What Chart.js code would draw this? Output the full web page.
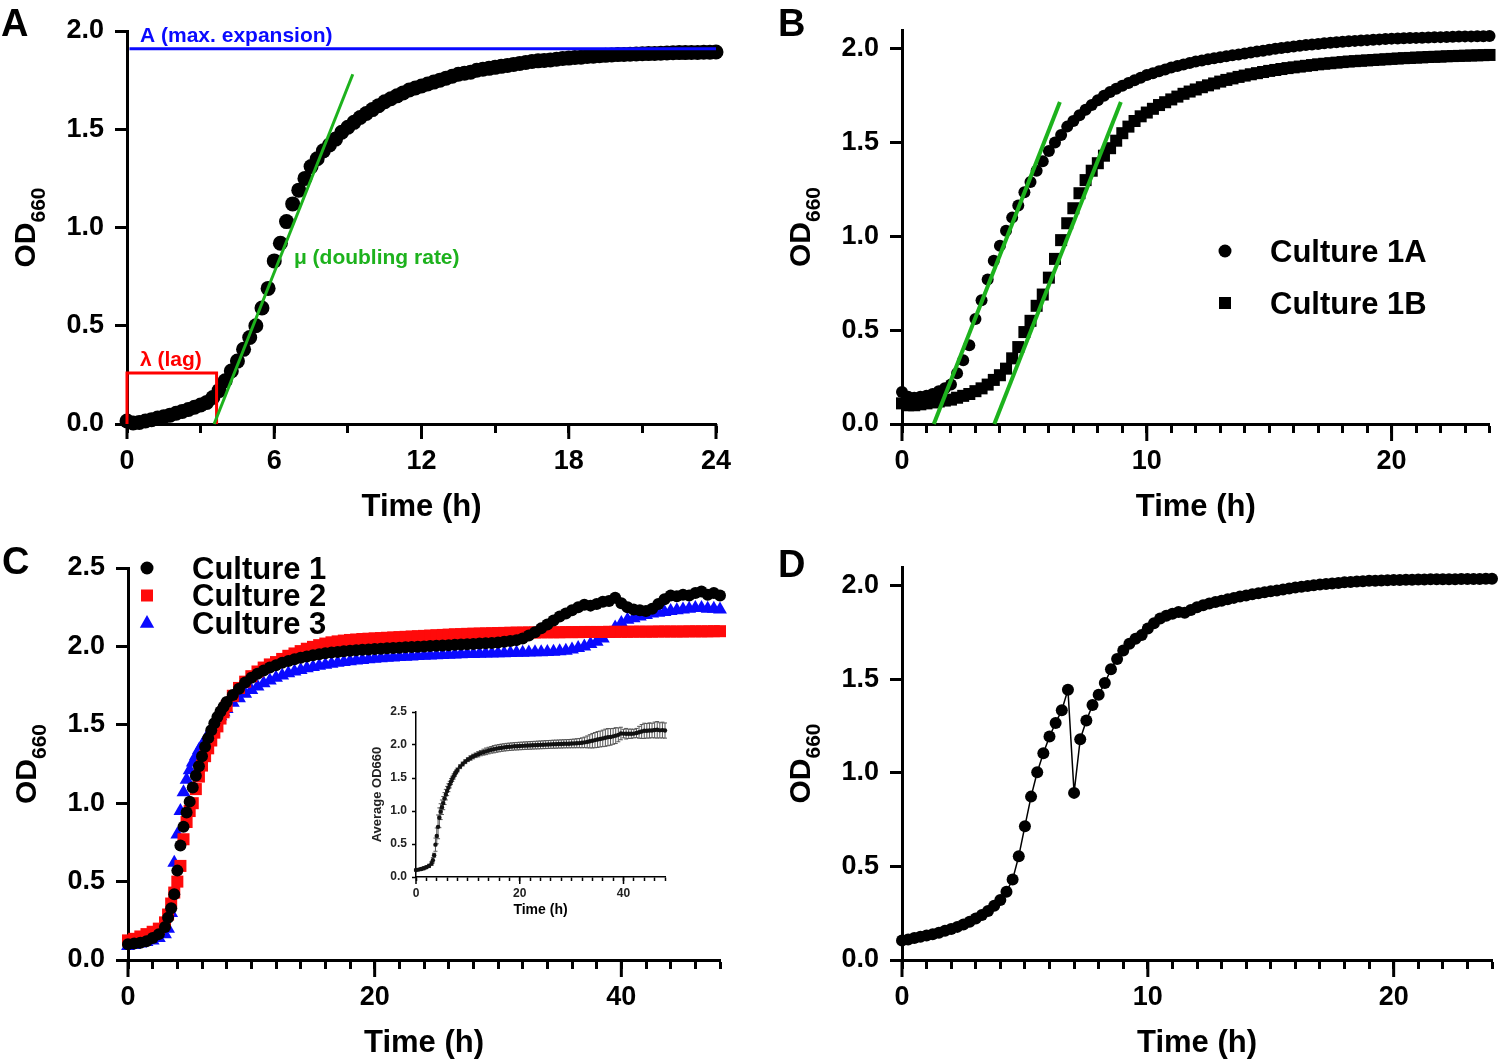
<!DOCTYPE html>
<html>
<head>
<meta charset="utf-8">
<script src="https://cdn.jsdelivr.net/npm/chart.js@4.4.1/dist/chart.umd.min.js"></script>
<style>
  body { margin: 0; background: #fff; width: 1498px; height: 1064px; position: relative; overflow: hidden; }
  canvas { position: absolute; }
  .tag { position: absolute; z-index: 5; font: bold 38px/38px 'Liberation Sans', Arial, sans-serif; color: #000; }
</style>
</head>
<body>
<div class="tag" style="left:1px;top:4px">A</div>
<div class="tag" style="left:778px;top:4px">B</div>
<div class="tag" style="left:2px;top:542px">C</div>
<div class="tag" style="left:778px;top:545px">D</div>
<canvas id="chartA" style="left:0;top:0" width="750" height="530"></canvas>
<canvas id="chartB" style="left:750px;top:0" width="748" height="530"></canvas>
<canvas id="chartC" style="left:0;top:530px" width="750" height="534"></canvas>
<canvas id="chartD" style="left:750px;top:530px" width="748" height="534"></canvas>
<canvas id="chartInset" style="left:350px;top:690px" width="330" height="240"></canvas>
<script>
const FONT_STACK = "'Liberation Sans', Arial, Helvetica, sans-serif";
Chart.defaults.font.family = FONT_STACK;
Chart.defaults.color = '#000';

// sampling times (h)
const TIME_24 = [
  0, 0.25, 0.5, 0.75, 1, 1.25, 1.5, 1.75, 2, 2.25, 2.5, 2.75,
  3, 3.25, 3.5, 3.75, 4, 4.25, 4.5, 4.75, 5, 5.25, 5.5, 5.75,
  6, 6.25, 6.5, 6.75, 7, 7.25, 7.5, 7.75, 8, 8.25, 8.5, 8.75,
  9, 9.25, 9.5, 9.75, 10, 10.25, 10.5, 10.75, 11, 11.25, 11.5, 11.75,
  12, 12.25, 12.5, 12.75, 13, 13.25, 13.5, 13.75, 14, 14.25, 14.5, 14.75,
  15, 15.25, 15.5, 15.75, 16, 16.25, 16.5, 16.75, 17, 17.25, 17.5, 17.75,
  18, 18.25, 18.5, 18.75, 19, 19.25, 19.5, 19.75, 20, 20.25, 20.5, 20.75,
  21, 21.25, 21.5, 21.75, 22, 22.25, 22.5, 22.75, 23, 23.25, 23.5, 23.75,
  24
];
const TIME_48 = [
  0, 0.5, 1, 1.5, 2, 2.5, 3,
  3.25, 3.5, 3.75, 4, 4.25, 4.5, 4.75, 5,
  5.25, 5.5, 5.75, 6, 6.25, 6.5, 6.75, 7,
  7.25, 7.5, 7.75, 8,
  8.5, 9, 9.5, 10, 10.5, 11, 11.5, 12,
  12.5, 13, 13.5, 14, 14.5, 15, 15.5, 16,
  16.5, 17, 17.5, 18, 18.5, 19, 19.5, 20,
  20.5, 21, 21.5, 22, 22.5, 23, 23.5, 24,
  24.5, 25, 25.5, 26, 26.5, 27, 27.5, 28,
  28.5, 29, 29.5, 30, 30.5, 31, 31.5, 32,
  32.5, 33, 33.5, 34, 34.5, 35, 35.5, 36,
  36.5, 37, 37.5, 38, 38.5, 39, 39.5, 40,
  40.5, 41, 41.5, 42, 42.5, 43, 43.5, 44,
  44.5, 45, 45.5, 46, 46.5, 47, 47.5, 48
];

// Panel A
const OD_A = [
  0.015, 0.005, 0.008, 0.015,
  0.022, 0.03, 0.037, 0.045,
  0.055, 0.064, 0.074, 0.085,
  0.097, 0.11, 0.135, 0.17,
  0.22, 0.27, 0.32, 0.38,
  0.44, 0.50, 0.59, 0.69,
  0.83, 0.92, 1.03, 1.12,
  1.19, 1.25, 1.31, 1.35,
  1.39, 1.42, 1.45, 1.485,
  1.51, 1.535, 1.56, 1.58,
  1.60, 1.62, 1.64, 1.655,
  1.67, 1.685, 1.70, 1.71,
  1.72, 1.73, 1.74, 1.75,
  1.76, 1.77, 1.78, 1.785,
  1.79, 1.80, 1.805, 1.81,
  1.815, 1.82, 1.825, 1.83,
  1.835, 1.84, 1.845, 1.848,
  1.85, 1.853, 1.856, 1.86,
  1.862, 1.865, 1.867, 1.87,
  1.872, 1.874, 1.876, 1.878,
  1.88, 1.881, 1.882, 1.883,
  1.884, 1.885, 1.886, 1.887,
  1.888, 1.889, 1.89, 1.89,
  1.891, 1.891, 1.892, 1.892,
  1.893
];
const MAX_T = [0.1, 24];
const MAX_OD = [1.91, 1.91];
const MU_T = [3.55, 9.2];
const MU_OD = [0, 1.78];
const LAG_T = [0, 0, 3.65, 3.65];
const LAG_OD = [0, 0.26, 0.26, 0];

// Panel B
const OD_1A = [
  0.17, 0.145, 0.14, 0.145,
  0.15, 0.16, 0.175, 0.19,
  0.21, 0.27, 0.34, 0.42,
  0.56, 0.66, 0.77, 0.87,
  0.95, 1.03, 1.10, 1.165,
  1.235, 1.29, 1.35, 1.40,
  1.455, 1.50, 1.54, 1.585,
  1.615, 1.645, 1.675, 1.70,
  1.725, 1.75, 1.77, 1.787,
  1.803, 1.818, 1.832, 1.846,
  1.86, 1.87, 1.88, 1.89,
  1.90, 1.908, 1.916, 1.924,
  1.932, 1.938, 1.944, 1.95,
  1.955, 1.96, 1.965, 1.97,
  1.975, 1.98, 1.985, 1.99,
  1.995, 2.0, 2.004, 2.008,
  2.012, 2.016, 2.02, 2.023,
  2.026, 2.029, 2.032, 2.035,
  2.038, 2.04, 2.042, 2.044,
  2.046, 2.048, 2.05, 2.052,
  2.054, 2.055, 2.056, 2.057,
  2.058, 2.059, 2.06, 2.061,
  2.062, 2.063, 2.064, 2.065,
  2.066, 2.066, 2.067, 2.067,
  2.068
];
const OD_1B = [
  0.11, 0.10, 0.10, 0.105,
  0.11, 0.115, 0.12, 0.125,
  0.13, 0.14, 0.15, 0.16,
  0.175, 0.19, 0.21, 0.235,
  0.26, 0.295, 0.35, 0.41,
  0.49, 0.55, 0.63, 0.69,
  0.78, 0.88, 0.98, 1.07,
  1.15, 1.23, 1.30, 1.35,
  1.39, 1.43, 1.47, 1.51,
  1.55, 1.585, 1.615, 1.64,
  1.66, 1.68, 1.70, 1.715,
  1.73, 1.745, 1.76, 1.772,
  1.783, 1.795, 1.805, 1.815,
  1.825, 1.834, 1.842, 1.85,
  1.857, 1.864, 1.87, 1.876,
  1.882, 1.887, 1.892, 1.897,
  1.901, 1.905, 1.909, 1.913,
  1.917, 1.92, 1.923, 1.926,
  1.929, 1.932, 1.934, 1.936,
  1.938, 1.94, 1.942, 1.944,
  1.946, 1.948, 1.95, 1.951,
  1.953, 1.954, 1.956, 1.957,
  1.958, 1.96, 1.961, 1.962,
  1.963, 1.964, 1.965, 1.966,
  1.967
];
const FIT_1A_T = [1.3, 6.45];
const FIT_1A_OD = [0, 1.716];
const FIT_1B_T = [3.77, 8.94];
const FIT_1B_OD = [0, 1.716];

// Panel C
const OD_C1 = [
  0.10, 0.105, 0.11, 0.12, 0.14, 0.165, 0.21,
  0.27, 0.33, 0.42, 0.57, 0.73, 0.85, 0.94, 1.01,
  1.10, 1.175, 1.235, 1.30, 1.36, 1.415, 1.465, 1.51,
  1.55, 1.585, 1.615, 1.645,
  1.69, 1.73, 1.77, 1.80, 1.825, 1.846, 1.865, 1.88,
  1.895, 1.907, 1.918, 1.928, 1.936, 1.944, 1.95, 1.956,
  1.961, 1.965, 1.969, 1.972, 1.975, 1.978, 1.98, 1.983,
  1.985, 1.988, 1.99, 1.992, 1.994, 1.996, 1.998, 2.0,
  2.002, 2.004, 2.006, 2.008, 2.01, 2.012, 2.014, 2.016,
  2.018, 2.02, 2.022, 2.025, 2.03, 2.035, 2.04, 2.05,
  2.07, 2.09, 2.115, 2.14, 2.165, 2.19, 2.21, 2.23,
  2.25, 2.265, 2.26, 2.27, 2.285, 2.29, 2.31, 2.275,
  2.25, 2.235, 2.23, 2.225, 2.24, 2.27, 2.30, 2.325,
  2.32, 2.33, 2.325, 2.34, 2.35, 2.33, 2.34, 2.325
];
const OD_C2 = [
  0.125, 0.135, 0.15, 0.165, 0.18, 0.20, 0.24,
  0.29, 0.36, 0.43, 0.50, 0.60, 0.77, 0.88, 0.95,
  1.00, 1.09, 1.17, 1.24, 1.30, 1.35, 1.40, 1.45,
  1.49, 1.54, 1.58, 1.62,
  1.685, 1.735, 1.775, 1.81, 1.84, 1.865, 1.885, 1.90,
  1.92, 1.94, 1.955, 1.97, 1.985, 1.997, 2.008, 2.018,
  2.026, 2.032, 2.037, 2.041, 2.044, 2.047, 2.049, 2.051,
  2.053, 2.055, 2.057, 2.059, 2.061, 2.063, 2.065, 2.067,
  2.069, 2.071, 2.073, 2.075, 2.077, 2.078, 2.08, 2.081,
  2.082, 2.083, 2.084, 2.085, 2.086, 2.087, 2.088, 2.088,
  2.089, 2.089, 2.09, 2.09, 2.09, 2.09, 2.091, 2.091,
  2.091, 2.092, 2.092, 2.092, 2.092, 2.093, 2.093, 2.093,
  2.093, 2.094, 2.094, 2.094, 2.094, 2.095, 2.095, 2.095,
  2.095, 2.095, 2.096, 2.096, 2.096, 2.096, 2.097, 2.097
];
const OD_C3 = [
  0.09, 0.095, 0.105, 0.115, 0.125, 0.14, 0.165,
  0.20, 0.30, 0.62, 0.80, 0.95, 1.07, 1.15, 1.21,
  1.26, 1.30, 1.34, 1.37, 1.40, 1.435, 1.47, 1.50,
  1.53, 1.555, 1.58, 1.60,
  1.64, 1.67, 1.698, 1.722, 1.745, 1.765, 1.783, 1.80,
  1.815, 1.828, 1.84, 1.85, 1.86, 1.868, 1.876, 1.883,
  1.89, 1.896, 1.901, 1.906, 1.91, 1.914, 1.918, 1.921,
  1.924, 1.927, 1.929, 1.932, 1.934, 1.936, 1.938, 1.94,
  1.942, 1.944, 1.945, 1.947, 1.948, 1.95, 1.951, 1.952,
  1.953, 1.954, 1.955, 1.956, 1.957, 1.958, 1.959, 1.96,
  1.961, 1.962, 1.963, 1.964, 1.966, 1.969, 1.973, 1.98,
  1.99, 2.0, 2.015, 2.03, 2.05, 2.08, 2.12, 2.15,
  2.17, 2.18, 2.19, 2.2, 2.21, 2.215, 2.22, 2.225,
  2.23, 2.235, 2.24, 2.245, 2.245, 2.24, 2.24, 2.235
];
// inset: mean and SD of the three cultures
const OD_MEAN = [
  0.105, 0.112, 0.122, 0.133, 0.148, 0.168, 0.205,
  0.253, 0.33, 0.49, 0.623, 0.76, 0.897, 0.99, 1.057,
  1.12, 1.188, 1.248, 1.303, 1.353, 1.4, 1.445, 1.487,
  1.523, 1.56, 1.592, 1.622,
  1.672, 1.712, 1.748, 1.779, 1.803, 1.825, 1.844, 1.86,
  1.877, 1.892, 1.904, 1.916, 1.927, 1.936, 1.945, 1.952,
  1.959, 1.964, 1.969, 1.973, 1.976, 1.98, 1.982, 1.985,
  1.987, 1.99, 1.992, 1.994, 1.996, 1.998, 2.0, 2.002,
  2.004, 2.006, 2.008, 2.01, 2.012, 2.013, 2.015, 2.016,
  2.018, 2.019, 2.02, 2.022, 2.024, 2.027, 2.029, 2.033,
  2.04, 2.047, 2.056, 2.065, 2.074, 2.083, 2.091, 2.1,
  2.11, 2.119, 2.122, 2.131, 2.142, 2.154, 2.174, 2.173,
  2.171, 2.17, 2.171, 2.173, 2.181, 2.193, 2.205, 2.215,
  2.215, 2.22, 2.22, 2.227, 2.23, 2.222, 2.226, 2.219
];
const OD_SD = [
  0.015, 0.017, 0.02, 0.022, 0.02, 0.025, 0.03,
  0.04, 0.03, 0.1, 0.12, 0.18, 0.15, 0.12, 0.11,
  0.1, 0.09, 0.08, 0.07, 0.06, 0.05, 0.045, 0.04,
  0.04, 0.035, 0.03, 0.03,
  0.03, 0.03, 0.03, 0.03, 0.035, 0.035, 0.035, 0.04,
  0.04, 0.045, 0.05, 0.05, 0.05, 0.055, 0.055, 0.055,
  0.055, 0.055, 0.056, 0.056, 0.056, 0.056, 0.057, 0.057,
  0.057, 0.057, 0.057, 0.058, 0.058, 0.058, 0.059, 0.059,
  0.059, 0.06, 0.06, 0.06, 0.061, 0.061, 0.061, 0.062,
  0.062, 0.062, 0.063, 0.064, 0.066, 0.068, 0.07, 0.075,
  0.08, 0.09, 0.1, 0.11, 0.115, 0.12, 0.12, 0.125,
  0.13, 0.13, 0.125, 0.12, 0.12, 0.105, 0.095, 0.065,
  0.08, 0.07, 0.07, 0.065, 0.07, 0.09, 0.105, 0.115,
  0.11, 0.115, 0.11, 0.12, 0.125, 0.115, 0.12, 0.115
];

// Panel D
const OD_D = [
  0.104, 0.11, 0.117, 0.124,
  0.131, 0.138, 0.146, 0.156,
  0.166, 0.177, 0.19, 0.205,
  0.222, 0.24, 0.262, 0.29,
  0.32, 0.365, 0.43, 0.555,
  0.715, 0.873, 1.003, 1.105,
  1.194, 1.267, 1.335, 1.444,
  0.893, 1.18, 1.28, 1.362,
  1.417, 1.48, 1.553, 1.608,
  1.654, 1.69, 1.717, 1.736,
  1.772, 1.80, 1.825, 1.84,
  1.85, 1.86, 1.855, 1.87,
  1.885, 1.895, 1.905, 1.913,
  1.92, 1.928, 1.935, 1.942,
  1.948, 1.955, 1.96, 1.965,
  1.97, 1.975, 1.98, 1.985,
  1.99, 1.994, 1.998, 2.002,
  2.006, 2.009, 2.012, 2.015,
  2.018, 2.02, 2.022, 2.024,
  2.026, 2.027, 2.028, 2.029,
  2.03, 2.031, 2.032, 2.032,
  2.033, 2.033, 2.034, 2.034,
  2.035, 2.035, 2.035, 2.036,
  2.036, 2.036, 2.036, 2.037,
  2.037
];

const BLUE = '#0a0aff';
const RED = '#ff0a0a';
const GREEN = '#1db21d';

function pts(ts, vs) {
  return ts.map((t, i) => ({ x: t, y: vs[i] }));
}

function xAxis(o) {
  const lw = o.lw || 3;
  return {
    type: 'linear', min: 0, max: o.max,
    border: { display: true, color: '#000', width: lw },
    grid: { display: true, drawOnChartArea: false, drawTicks: true, tickLength: o.minorLen, tickColor: '#000', tickWidth: lw },
    ticks: {
      stepSize: o.step, autoSkip: false, maxRotation: 0, minRotation: 0, includeBounds: false,
      padding: o.pad, color: o.color || '#000', font: { size: o.size, weight: 'bold' },
      callback: v => (Math.abs(v % o.every) < 1e-6 ? String(v) : '')
    },
    title: { display: true, text: 'Time (h)', color: '#000', font: { size: o.titleSize, weight: 'bold' }, padding: { top: 0, bottom: o.titlePad } },
    afterFit: s => { s.height = o.height; s.paddingLeft = 0; s.paddingRight = 0; }
  };
}

function yAxis(o) {
  const lw = o.lw || 3;
  return {
    type: 'linear', min: 0, max: o.max,
    border: { display: true, color: '#000', width: lw },
    grid: { display: true, drawOnChartArea: false, drawTicks: true, tickLength: o.tickLen, tickColor: '#000', tickWidth: lw },
    ticks: {
      stepSize: 0.5, includeBounds: false, padding: o.pad, color: o.color || '#000',
      font: { size: o.size, weight: 'bold' }, callback: v => v.toFixed(1)
    },
    title: o.title || { display: false },
    afterFit: s => { s.width = o.width; s.paddingTop = 0; s.paddingBottom = 0; }
  };
}

// longer ticks at the labelled hours
function majorTicks(every, len, lw) {
  return {
    id: 'majorTicks',
    afterDraw(chart) {
      const xs = chart.scales.x, ctx = chart.ctx;
      ctx.save();
      ctx.strokeStyle = '#000';
      ctx.lineWidth = lw;
      for (let v = xs.min; v <= xs.max + 1e-9; v += every) {
        const px = xs.getPixelForValue(v);
        ctx.beginPath();
        ctx.moveTo(px, xs.top);
        ctx.lineTo(px, xs.top + len);
        ctx.stroke();
      }
      ctx.restore();
    }
  };
}

// rotated "OD" with subscript "660"
function odTitle() {
  return {
    id: 'odTitle',
    afterDraw(chart) {
      const { ctx, chartArea } = chart;
      const ys = chart.scales.y;
      const main = 'bold 30px ' + FONT_STACK, sub = 'bold 21px ' + FONT_STACK;
      ctx.save();
      ctx.font = main;
      const w1 = ctx.measureText('OD').width;
      ctx.font = sub;
      const w2 = ctx.measureText('660').width;
      const cy = (chartArea.top + chartArea.bottom) / 2;
      ctx.translate(ys.right - 92, cy + (w1 + w2) / 2);
      ctx.rotate(-Math.PI / 2);
      ctx.fillStyle = '#000';
      ctx.textAlign = 'left';
      ctx.textBaseline = 'alphabetic';
      ctx.font = main;
      ctx.fillText('OD', 0, 0);
      ctx.font = sub;
      ctx.fillText('660', w1, 10);
      ctx.restore();
    }
  };
}

function drawMarker(ctx, style, x, y, r, color) {
  ctx.fillStyle = color;
  ctx.beginPath();
  if (style === 'rect') {
    ctx.rect(x - r, y - r, 2 * r, 2 * r);
  } else if (style === 'triangle') {
    ctx.moveTo(x, y - r);
    ctx.lineTo(x + r * 0.9, y + r * 0.6);
    ctx.lineTo(x - r * 0.9, y + r * 0.6);
    ctx.closePath();
  } else {
    ctx.arc(x, y, r, 0, Math.PI * 2);
  }
  ctx.fill();
}

function legendRows(cfg) {
  return {
    id: 'legendRows',
    afterDraw(chart) {
      const ctx = chart.ctx;
      ctx.save();
      ctx.font = 'bold ' + cfg.size + 'px ' + FONT_STACK;
      ctx.textAlign = 'left';
      ctx.textBaseline = 'middle';
      cfg.rows.forEach((idx, k) => {
        const ds = chart.data.datasets[idx];
        const y = cfg.y + k * cfg.dy;
        drawMarker(ctx, ds.pointStyle, cfg.x, y, cfg.r[k], ds.backgroundColor);
        ctx.fillStyle = '#000';
        ctx.fillText(ds.label, cfg.textX, y + 2);
      });
      ctx.restore();
    }
  };
}

function notes(items) {
  return {
    id: 'notes',
    afterDatasetsDraw(chart) {
      const { ctx, scales: { x, y } } = chart;
      ctx.save();
      ctx.textAlign = 'left';
      ctx.textBaseline = 'alphabetic';
      items.forEach(n => {
        ctx.font = 'bold 21px ' + FONT_STACK;
        ctx.fillStyle = n.color;
        ctx.fillText(n.text, x.getPixelForValue(n.t), y.getPixelForValue(n.od));
      });
      ctx.restore();
    }
  };
}

function baseOptions(pad, x, y, extra) {
  return {
    responsive: false, devicePixelRatio: 1, animation: false, events: [],
    layout: { padding: pad },
    plugins: Object.assign({ legend: { display: false }, tooltip: { enabled: false } }, extra || {}),
    scales: { x: x, y: y }
  };
}

function markers(label, ts, vs, style, r, color, order) {
  return {
    label: label, data: pts(ts, vs), pointStyle: style, pointRadius: r,
    backgroundColor: color, borderColor: color, borderWidth: 0, showLine: false, clip: false, order: order
  };
}
function segment(ts, vs, color, width, order) {
  return {
    data: pts(ts, vs), showLine: true, pointRadius: 0, borderColor: color, borderWidth: width,
    borderJoinStyle: 'miter', tension: 0, clip: false, order: order
  };
}

const mainX = (max, step, every, titlePad, height) => xAxis({
  max, step, every, minorLen: 9, pad: 12, size: 27, titleSize: 31, titlePad, height
});
const mainY = (max, width) => yAxis({ max, tickLen: 12, pad: 11, size: 27, width });

// A
new Chart(document.getElementById('chartA'), {
  type: 'scatter',
  data: {
    datasets: [
      segment(MAX_T, MAX_OD, BLUE, 3, 1),
      segment(MU_T, MU_OD, GREEN, 3, 2),
      segment(LAG_T, LAG_OD, '#ff0000', 3, 3),
      markers('OD660', TIME_24, OD_A, 'circle', 7.5, '#000', 4)
    ]
  },
  options: baseOptions({ top: 31, right: 34, left: 0, bottom: 0 }, mainX(24, 3, 6, 4, 106), mainY(2.0, 127)),
  plugins: [
    majorTicks(6, 15, 3), odTitle(),
    notes([
      { text: 'A (max. expansion)', t: 0.53, od: 1.944, color: BLUE },
      { text: '\u03bc (doubling rate)', t: 6.8, od: 0.814, color: GREEN },
      { text: '\u03bb (lag)', t: 0.53, od: 0.295, color: '#ff0000' }
    ])
  ]
});

// B
new Chart(document.getElementById('chartB'), {
  type: 'scatter',
  data: {
    datasets: [
      markers('Culture 1A', TIME_24, OD_1A, 'circle', 6, '#000', 3),
      markers('Culture 1B', TIME_24, OD_1B, 'rect', 8.5, '#000', 4),
      segment(FIT_1A_T, FIT_1A_OD, GREEN, 4, 1),
      segment(FIT_1B_T, FIT_1B_OD, GREEN, 4, 2)
    ]
  },
  options: baseOptions({ top: 30, right: 5, left: 0, bottom: 0 }, mainX(24, 1, 10, 4, 106), mainY(2.1, 152)),
  plugins: [
    majorTicks(10, 17, 3), odTitle(),
    legendRows({ rows: [0, 1], x: 475, y: 251, dy: 52, textX: 520, size: 31, r: [6.5, 6] })
  ]
});

// C
new Chart(document.getElementById('chartC'), {
  type: 'scatter',
  data: {
    datasets: [
      markers('Culture 1', TIME_48, OD_C1, 'circle', 6, '#000', 1),
      markers('Culture 2', TIME_48, OD_C2, 'rect', 8.5, RED, 2),
      markers('Culture 3', TIME_48, OD_C3, 'triangle', 8, BLUE, 3)
    ]
  },
  options: baseOptions({ top: 38, right: 30, left: 0, bottom: 0 }, mainX(48, 2, 20, 2, 104), mainY(2.5, 128)),
  plugins: [
    majorTicks(20, 17, 3), odTitle(),
    legendRows({ rows: [0, 1, 2], x: 147, y: 38, dy: 27.5, textX: 192, size: 31, r: [6.5, 6, 8] })
  ]
});

// C inset
new Chart(document.getElementById('chartInset'), {
  type: 'scatter',
  data: {
    datasets: [markers('Average OD660', TIME_48, OD_MEAN, 'circle', 2.2, '#111', 1)]
  },
  options: baseOptions(
    { top: 22, right: 15, left: 0, bottom: 0 },
    xAxis({ max: 48, step: 2, every: 20, minorLen: 4, pad: 5, size: 12, titleSize: 14, titlePad: 11, height: 53, lw: 1.5, color: '#222' }),
    yAxis({
      max: 2.5, tickLen: 4, pad: 5, size: 12, width: 66, lw: 1.5, color: '#222',
      title: { display: true, text: 'Average OD660', color: '#222', font: { size: 13, weight: 'bold' }, padding: { top: 20, bottom: 0 } }
    })
  ),
  plugins: [
    majorTicks(20, 7, 1.5),
    {
      id: 'errorBars',
      beforeDatasetsDraw(chart) {
        const { ctx, scales: { x, y } } = chart;
        ctx.save();
        ctx.strokeStyle = '#555';
        ctx.lineWidth = 1;
        TIME_48.forEach((t, i) => {
          const px = x.getPixelForValue(t);
          const hi = y.getPixelForValue(OD_MEAN[i] + OD_SD[i]);
          const lo = y.getPixelForValue(OD_MEAN[i] - OD_SD[i]);
          ctx.beginPath();
          ctx.moveTo(px, hi); ctx.lineTo(px, lo);
          ctx.moveTo(px - 2, hi); ctx.lineTo(px + 2, hi);
          ctx.moveTo(px - 2, lo); ctx.lineTo(px + 2, lo);
          ctx.stroke();
        });
        ctx.restore();
      }
    }
  ]
});

// D
new Chart(document.getElementById('chartD'), {
  type: 'scatter',
  data: {
    datasets: [{
      label: 'OD660', data: pts(TIME_24, OD_D), showLine: true, tension: 0,
      borderColor: '#000', borderWidth: 1.5, pointRadius: 6, pointStyle: 'circle',
      pointBackgroundColor: '#000', pointBorderWidth: 0, clip: false
    }]
  },
  options: baseOptions({ top: 37, right: 5, left: 0, bottom: 0 }, mainX(24, 1, 10, 2, 104), mainY(2.1, 152)),
  plugins: [majorTicks(10, 17, 3), odTitle()]
});
</script>
</body>
</html>
